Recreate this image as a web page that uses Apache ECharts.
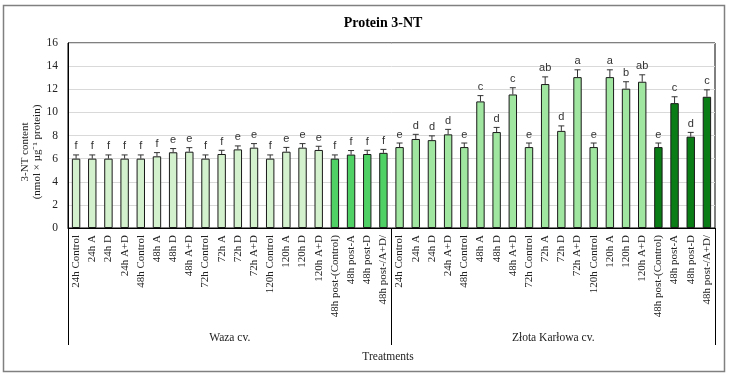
<!DOCTYPE html>
<html>
<head>
<meta charset="utf-8">
<script src="https://cdn.jsdelivr.net/npm/echarts@6/dist/echarts.min.js"></script>
<style>
  html, body { margin: 0; padding: 0; background: #fff; }
  #chart { width: 731px; height: 376px; }
</style>
</head>
<body>
<div id="chart"></div>
<script>
// treatments, same list for both cultivars
const treatments = ['24h Control', '24h A', '24h D', '24h A+D', '48h Control', '48h A', '48h D', '48h A+D',
    '72h Control', '72h A', '72h D', '72h A+D', '120h Control', '120h A', '120h D', '120h A+D',
    '48h post-(Control)', '48h post-A', '48h post-D', '48h post-/A+D/'];
const cultivars = ['Waza cv.', 'Złota Karłowa cv.'];

const wazaMean = [6.0, 6.0, 6.0, 6.0, 6.0, 6.2, 6.55, 6.6, 6.0, 6.4, 6.8, 6.95, 6.0, 6.6, 6.95, 6.75, 6.0, 6.35, 6.4, 6.5];
const wazaErr = [0.32, 0.32, 0.32, 0.32, 0.32, 0.32, 0.32, 0.35, 0.32, 0.32, 0.3, 0.35, 0.32, 0.37, 0.35, 0.32, 0.32, 0.35, 0.32, 0.3];
const wazaLetters = ['f', 'f', 'f', 'f', 'f', 'f', 'e', 'e', 'f', 'f', 'e', 'e', 'f', 'e', 'e', 'e', 'f', 'f', 'f', 'f'];

const zlotaMean = [7.0, 7.7, 7.6, 8.1, 7.0, 10.95, 8.3, 11.55, 7.0, 12.45, 8.4, 13.05, 7.0, 13.05, 12.05, 12.65, 7.0, 10.8, 7.9, 11.35];
const zlotaErr = [0.35, 0.4, 0.37, 0.43, 0.35, 0.5, 0.4, 0.58, 0.35, 0.62, 0.43, 0.63, 0.35, 0.63, 0.6, 0.6, 0.35, 0.55, 0.37, 0.6];
const zlotaLetters = ['e', 'd', 'd', 'd', 'e', 'c', 'd', 'c', 'e', 'ab', 'd', 'a', 'e', 'a', 'b', 'ab', 'e', 'c', 'd', 'c'];

const yTicks = [0, 2, 4, 6, 8, 10, 12, 14, 16];

const categories = treatments.concat(treatments);
const means = wazaMean.concat(zlotaMean);
const errs = wazaErr.concat(zlotaErr);
const letters = wazaLetters.concat(zlotaLetters);

function barColor(i) { // 0-15 treatments, 16-19 post-treatment
    const k = i % treatments.length;
    if (i < treatments.length) {
        return k < 16 ? '#d3f1cd' : '#4fd165';
    } else {
        return k < 16 ? '#a0e5a0' : '#0b7d16';
    }
}

const serif = '"Liberation Serif", "Times New Roman", serif';
const sans = '"Liberation Sans", Arial, sans-serif';

const chart = echarts.init(document.getElementById('chart'));
chart.setOption({
    animation: false,
    backgroundColor: '#fff',
    title: {
        text: 'Protein 3-NT',
        left: 383,
        top: 16,
        padding: 0,
        textAlign: 'center',
        textStyle: { fontFamily: serif, fontWeight: 'bold', fontSize: 14, color: '#000' }
    },
    grid: {
        left: 68, right: 16, top: 43, bottom: 148,
        show: true, borderColor: '#000', borderWidth: 1
    },
    xAxis: [{
        type: 'category',
        data: categories,
        axisLine: { lineStyle: { color: '#000' } },
        axisTick: { show: false },
        splitLine: { show: false },
        axisLabel: {
            interval: 0, rotate: 90, margin: 7,
            fontFamily: serif, fontSize: 11, color: '#222'
        }
    }, {
        type: 'category',
        data: cultivars,
        position: 'bottom',
        axisLine: { show: false },
        axisTick: { show: true, interval: 0, length: 117, lineStyle: { color: '#000' } },
        splitLine: { show: false },
        axisLabel: {
            interval: 0, margin: 104,
            fontFamily: serif, fontSize: 11.5, color: '#222'
        }
    }],
    yAxis: {
        type: 'value',
        min: yTicks[0],
        max: yTicks[yTicks.length - 1],
        interval: 2,
        axisLine: { show: true, lineStyle: { color: '#000' } },
        axisTick: { show: false },
        splitLine: { lineStyle: { color: '#d9d9d9' } },
        axisLabel: { margin: 10, fontFamily: serif, fontSize: 11.5, color: '#222' }
    },
    graphic: [{
        type: 'rect',
        shape: { x: 3.5, y: 5.5, width: 721, height: 366 },
        style: { fill: 'none', stroke: '#808080', lineWidth: 1.5 },
        silent: true
    }, {
        type: 'text',
        x: 31, y: 152,
        rotation: Math.PI / 2,
        style: {
            text: '3-NT content\n(nmol × µg⁻¹ protein)',
            font: '11px ' + serif,
            lineHeight: 12,
            fill: '#222',
            textAlign: 'center',
            textVerticalAlign: 'middle'
        }
    }, {
        type: 'text',
        x: 388, y: 357,
        style: {
            text: 'Treatments',
            font: '11.5px ' + serif,
            fill: '#222',
            textAlign: 'center',
            textVerticalAlign: 'middle'
        }
    }],
    series: [{
        type: 'bar',
        xAxisIndex: 0,
        barWidth: '52%',
        data: means.map((v, i) => ({
            value: v,
            itemStyle: { color: barColor(i) }
        })),
        itemStyle: { borderColor: '#1a1a1a', borderWidth: 1 }
    }, {
        type: 'custom',
        xAxisIndex: 0,
        data: means.map((v, i) => [i, v, errs[i]]),
        renderItem: function (params, api) {
            const top = api.coord([api.value(0), api.value(1) + api.value(2)]);
            const base = api.coord([api.value(0), api.value(1)]);
            const half = 3;
            return {
                type: 'group',
                children: [{
                    type: 'line',
                    shape: { x1: base[0], y1: base[1], x2: top[0], y2: top[1] },
                    style: { stroke: '#333', lineWidth: 1 }
                }, {
                    type: 'line',
                    shape: { x1: top[0] - half, y1: top[1], x2: top[0] + half, y2: top[1] },
                    style: { stroke: '#333', lineWidth: 1 }
                }, {
                    type: 'text',
                    x: top[0], y: top[1] - 3,
                    style: {
                        text: letters[params.dataIndex],
                        font: '11px ' + sans,
                        fill: '#333',
                        textAlign: 'center',
                        textVerticalAlign: 'bottom'
                    }
                }]
            };
        },
        z: 5
    }]
});
</script>
</body>
</html>
